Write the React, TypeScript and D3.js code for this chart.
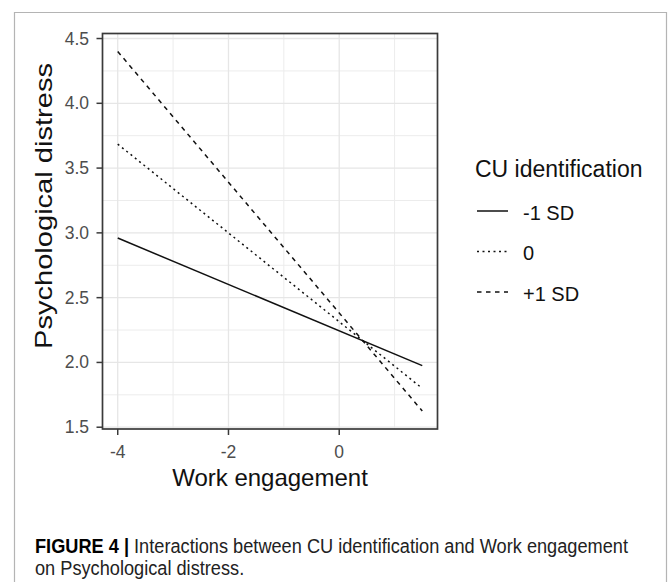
import React, { useEffect, useRef } from 'react';
import { select, scaleLinear, line, range } from 'd3';

const workEngagement = [-4, 1.5];
const groupNames = ['-1 SD', '0', '+1 SD'];
const lowIdentification = [2.96, 1.975];
const meanIdentification = [3.685, 1.8];
const highIdentification = [4.4, 1.625];
const yTicks = [1.5, 2.0, 2.5, 3.0, 3.5, 4.0, 4.5];
const xTicks = [-4, -2, 0];
const yMinor = [1.75, 2.25, 2.75, 3.25, 3.75, 4.25];
const xMinor = [-3, -1, 1];

const W = 668;
const H = 582;

const App = () => {
    const ref = useRef(null);

    useEffect(() => {
        const svg = select(ref.current);
        svg.selectAll('*').remove();

        const panel = { left: 102.5, right: 437.5, top: 33.5, bottom: 429 };
        const font = 'Liberation Sans, Arial, sans-serif';

        // ggplot style 5% expansion of the data range
        const allY = [...lowIdentification, ...meanIdentification, ...highIdentification];
        const xExt = [Math.min(...workEngagement), Math.max(...workEngagement)];
        const yExt = [Math.min(...allY), Math.max(...allY)];
        const xPad = (xExt[1] - xExt[0]) * 0.05;
        const yPad = (yExt[1] - yExt[0]) * 0.05;

        const x = scaleLinear()
            .domain([xExt[0] - xPad, xExt[1] + xPad])
            .range([panel.left, panel.right]);
        const y = scaleLinear()
            .domain([yExt[0] - yPad, yExt[1] + yPad])
            .range([panel.bottom, panel.top]);

        svg.append('rect').attr('width', W).attr('height', H).attr('fill', 'white');

        // outer figure frame
        svg.append('path')
            .attr('d', `M14.5,${H + 2} V12.5 H666.5 V${H + 2}`)
            .attr('fill', 'none')
            .attr('stroke', '#b4b4b4')
            .attr('stroke-width', 1.2);

        const grid = svg.append('g');
        grid.selectAll('.ymin').data(yMinor).enter().append('line')
            .attr('x1', panel.left).attr('x2', panel.right)
            .attr('y1', d => y(d)).attr('y2', d => y(d))
            .attr('stroke', '#ececec').attr('stroke-width', 1);
        grid.selectAll('.xmin').data(xMinor).enter().append('line')
            .attr('y1', panel.top).attr('y2', panel.bottom)
            .attr('x1', d => x(d)).attr('x2', d => x(d))
            .attr('stroke', '#ececec').attr('stroke-width', 1);
        grid.selectAll('.ymaj').data(yTicks).enter().append('line')
            .attr('x1', panel.left).attr('x2', panel.right)
            .attr('y1', d => y(d)).attr('y2', d => y(d))
            .attr('stroke', '#e6e6e6').attr('stroke-width', 1.3);
        grid.selectAll('.xmaj').data(xTicks).enter().append('line')
            .attr('y1', panel.top).attr('y2', panel.bottom)
            .attr('x1', d => x(d)).attr('x2', d => x(d))
            .attr('stroke', '#e6e6e6').attr('stroke-width', 1.3);

        const series = [lowIdentification, meanIdentification, highIdentification];
        const dashes = [null, '2,3.5', '4.5,4.5'];
        const path = line<number>()
            .x((d, i) => x(workEngagement[i]))
            .y(d => y(d));

        series.forEach((s, k) => {
            svg.append('path')
                .attr('d', path(s))
                .attr('fill', 'none')
                .attr('stroke', '#111')
                .attr('stroke-width', 1.5)
                .attr('stroke-dasharray', dashes[k]);
        });

        svg.append('rect')
            .attr('x', panel.left).attr('y', panel.top)
            .attr('width', panel.right - panel.left)
            .attr('height', panel.bottom - panel.top)
            .attr('fill', 'none')
            .attr('stroke', '#3a3a3a')
            .attr('stroke-width', 1.7);

        // y axis
        const ya = svg.append('g');
        ya.selectAll('line').data(yTicks).enter().append('line')
            .attr('x1', panel.left - 6).attr('x2', panel.left)
            .attr('y1', d => y(d)).attr('y2', d => y(d))
            .attr('stroke', '#3a3a3a').attr('stroke-width', 1.5);
        ya.selectAll('text').data(yTicks).enter().append('text')
            .attr('x', 89).attr('y', d => y(d) + 6)
            .attr('text-anchor', 'end')
            .attr('font-family', font).attr('font-size', 17.5)
            .attr('fill', '#4d4d4d')
            .text(d => d.toFixed(1));

        // x axis
        const xa = svg.append('g');
        xa.selectAll('line').data(xTicks).enter().append('line')
            .attr('y1', panel.bottom).attr('y2', panel.bottom + 6)
            .attr('x1', d => x(d)).attr('x2', d => x(d))
            .attr('stroke', '#3a3a3a').attr('stroke-width', 1.5);
        xa.selectAll('text').data(xTicks).enter().append('text')
            .attr('x', d => x(d)).attr('y', 458)
            .attr('text-anchor', 'middle')
            .attr('font-family', font).attr('font-size', 17.5)
            .attr('fill', '#4d4d4d')
            .text(d => String(d));

        svg.append('text')
            .attr('x', (panel.left + panel.right) / 2).attr('y', 486)
            .attr('text-anchor', 'middle')
            .attr('font-family', font).attr('font-size', 24)
            .attr('fill', '#111')
            .text('Work engagement');

        svg.append('text')
            .attr('transform', 'translate(52,206) rotate(-90)')
            .attr('text-anchor', 'middle')
            .attr('font-family', font).attr('font-size', 24)
            .attr('fill', '#111')
            .attr('textLength', 286)
            .attr('lengthAdjust', 'spacingAndGlyphs')
            .text('Psychological distress');

        // legend
        svg.append('text')
            .attr('x', 475).attr('y', 177)
            .attr('font-family', font).attr('font-size', 23)
            .attr('fill', '#111')
            .text('CU identification');

        const rows = range(groupNames.length).map(i => 212 + i * 40.5);
        groupNames.forEach((name, i) => {
            svg.append('line')
                .attr('x1', 477).attr('x2', 508)
                .attr('y1', rows[i] - 1).attr('y2', rows[i] - 1)
                .attr('stroke', '#111').attr('stroke-width', 1.5)
                .attr('stroke-dasharray', dashes[i]);
            svg.append('text')
                .attr('x', 523).attr('y', rows[i] + 7.5)
                .attr('font-family', font).attr('font-size', 20)
                .attr('fill', '#111')
                .text(name);
        });

        // caption: narrow face, so squeeze both lines by the same factor
        const cap1 = svg.append('text')
            .attr('x', 35).attr('y', 553)
            .attr('font-family', font).attr('font-size', 19.5)
            .attr('fill', '#222');
        cap1.append('tspan').attr('font-weight', 'bold').attr('fill', '#000').text('FIGURE 4 | ');
        cap1.append('tspan').text('Interactions between CU identification and Work engagement');

        const cap2 = svg.append('text')
            .attr('x', 35).attr('y', 575)
            .attr('font-family', font).attr('font-size', 19.5)
            .attr('fill', '#222')
            .text('on Psychological distress.');

        const n1 = (cap1.node() as SVGTextElement).getComputedTextLength();
        const n2 = (cap2.node() as SVGTextElement).getComputedTextLength();
        const squeeze = 593 / n1;
        cap1.attr('textLength', 593).attr('lengthAdjust', 'spacingAndGlyphs');
        cap2.attr('textLength', n2 * squeeze).attr('lengthAdjust', 'spacingAndGlyphs');
    }, []);

    return (
        <svg ref={ref} width={W} height={H}
            style={{ position: 'absolute', left: 0, top: 0, display: 'block' }} />
    );
};

export default App;
